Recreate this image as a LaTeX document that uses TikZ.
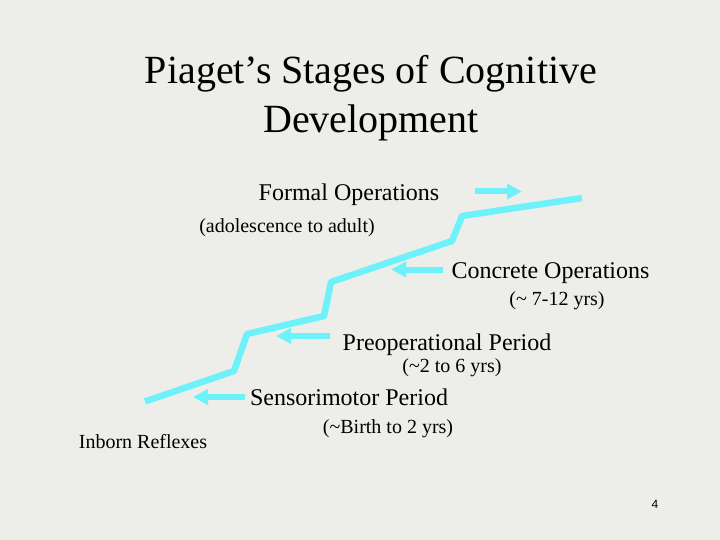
\documentclass[tikz,border=0pt]{standalone}
\usepackage{fontspec}
\setmainfont{Liberation Serif}
\newfontfamily\arialfont{Liberation Sans}
\usetikzlibrary{arrows.meta}
\definecolor{bg}{RGB}{237,237,233}
\definecolor{stair}{RGB}{110,242,250}
\begin{document}
\begin{tikzpicture}[x=1pt,y=-1pt,
  lbl/.style={anchor=base,inner sep=0pt,font=\fontsize{24}{28}\selectfont},
  sub/.style={anchor=base,inner sep=0pt,font=\fontsize{20}{24}\selectfont},
  ttl/.style={anchor=base,inner sep=0pt,font=\fontsize{40}{48}\selectfont},
  stairline/.style={draw=stair,line width=6.5pt,line join=round},
  pointer/.style={draw=stair,line width=6pt,-{Triangle[length=15pt,width=15pt]}}]
\fill[bg] (0,0) rectangle (720,540);
\useasboundingbox (0,0) rectangle (720,540);
% title
\node[ttl] (t1) at (371,84) {Piaget’s Stages of Cognitive};
\node[ttl] (t2) at (371,133) {Development};
% staircase
\coordinate (s0) at (145,401.5);
\coordinate (s1) at (234,371);
\coordinate (s2) at (247,334);
\coordinate (s3) at (324,316);
\coordinate (s4) at (331,282);
\coordinate (s5) at (452,241);
\coordinate (s6) at (462,216);
\coordinate (s7) at (582,198);
\draw[stairline] (s0) -- (s1) -- (s2) -- (s3) -- (s4) -- (s5) -- (s6) -- (s7);
% labels
\node[lbl] (fo) at (349,201) {Formal Operations};
\node[sub] (fa) at (287,233) {(adolescence to adult)};
\node[lbl] (co) at (550.5,278) {Concrete Operations};
\node[sub] (ca) at (557,305) {(\textasciitilde{} 7-12 yrs)};
\node[lbl] (po) at (447,350) {Preoperational Period};
\node[sub] (pa) at (452,372) {(\textasciitilde{}2 to 6 yrs)};
\node[lbl] (so) at (349,405) {Sensorimotor Period};
\node[sub] (sa) at (388,433) {(\textasciitilde{}Birth to 2 yrs)};
\node[sub] (ir) at (143,448) {Inborn Reflexes};
\node[anchor=base,inner sep=0pt,font=\arialfont\fontsize{12}{14}\selectfont] (pg) at (655,508) {4};
% arrows
\coordinate (a1s) at (475,191.5); \coordinate (a1e) at (522,191.5);
\coordinate (a2s) at (443,269.5); \coordinate (a2e) at (391,269.5);
\coordinate (a3s) at (330,336); \coordinate (a3e) at (276,336);
\coordinate (a4s) at (245,397); \coordinate (a4e) at (193,397);
\draw[pointer] (a1s) -- (a1e);
\draw[pointer] (a2s) -- (a2e);
\draw[pointer] (a3s) -- (a3e);
\draw[pointer] (a4s) -- (a4e);
\end{tikzpicture}
\end{document}
